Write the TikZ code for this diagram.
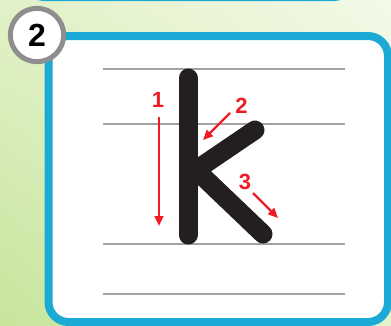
\documentclass[tikz,border=0pt]{standalone}
\usepackage{fontspec}
\setmainfont{Liberation Sans}
\usetikzlibrary{arrows.meta, positioning, shadings}
\definecolor{rahmen}{HTML}{1BA9D6}
\definecolor{linie}{HTML}{A2A2A2}
\definecolor{strich}{HTML}{231F20}
\definecolor{pfeil}{HTML}{EE1C25}
\definecolor{ring}{HTML}{8E8E8E}
\definecolor{gruenA}{HTML}{C6E59C}
\definecolor{gruenB}{HTML}{E2F1C8}
\definecolor{gruenC}{HTML}{F3F9E7}
\definecolor{gruenD}{HTML}{E4F2CC}

\begin{document}
\begin{tikzpicture}[x=0.75pt, y=-0.75pt,
    zeile/.style={linie, line width=1.5pt},
    buchstabe/.style={strich, line width=14.25pt, line cap=round, line join=round},
    richtung/.style={pfeil, line width=1.7pt, -{Triangle[length=7.5pt,width=6.5pt]}},
    ziffer/.style={pfeil, inner sep=0pt, font=\bfseries\fontsize{16.5}{16.5}\selectfont}]
      \useasboundingbox (0,0) rectangle (391,325);

      % --- Hintergrund ---
      \shade[lower left=gruenA, upper left=gruenB, upper right=gruenC, lower right=gruenD]
        (0,0) rectangle (391,325);

      % Rand der vorigen Karte
      \draw[rahmen, line width=6pt, rounded corners=12pt]
        (28,-40) -- (28,-3) -- (350,-3) -- (350,-40);

      % Karte
      \draw[rahmen, line width=6pt, fill=white, rounded corners=15pt]
        (48.5,36) rectangle (388,322);

      % Schreiblinien
      \foreach \y in {69,124,244,294}
        \draw[zeile] (103,\y) -- (345,\y);

      % --- Buchstabe k ---
      \coordinate (kOben) at (188,78);
      \coordinate (kUnten) at (188,235);
      \coordinate (armOben) at (255,130);
      \coordinate (knick) at (196,170);
      \coordinate (armUnten) at (263,234);
      \draw[buchstabe] (kOben) -- (kUnten);
      \draw[buchstabe] (armOben) -- (knick) -- (armUnten);

      % --- Strichfolge ---
      \node[ziffer] (z1) at (158,100) {1};
      \node[ziffer] (z2) at (241.5,105.5) {2};
      \node[ziffer] (z3) at (245,182) {3};
      \coordinate (p1a) at (159,117);
      \coordinate (p1b) at (159,226);
      \coordinate (p2a) at (230,113);
      \coordinate (p2b) at (203,140);
      \coordinate (p3a) at (253,193);
      \coordinate (p3b) at (278,218);
      \draw[richtung] (p1a) -- (p1b);
      \draw[richtung] (p2a) -- (p2b);
      \draw[richtung] (p3a) -- (p3b);

      % Nummer
      \node[circle, draw=ring, line width=3.75pt, fill=white, minimum size=40pt,
        inner sep=0pt, font=\bfseries\fontsize{24}{24}\selectfont]
        (nummer) at (37,35) {\raisebox{-2pt}{2}};
\end{tikzpicture}
\end{document}
